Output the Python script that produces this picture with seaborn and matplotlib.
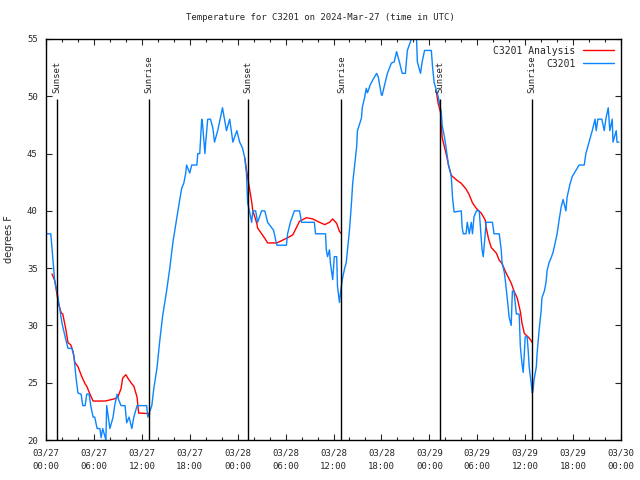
import numpy as np
import pandas as pd
import matplotlib
matplotlib.use("Agg")
import matplotlib.pyplot as plt
import matplotlib.dates as mdates
import seaborn as sns

# hours after 2024-03-27 00:00 UTC, temperatures in degrees F
obs_hours = [0.1, 0.6, 0.9, 1.1, 1.4, 1.75, 2.0, 2.4, 2.75, 3.25, 3.5, 3.75, 4.0, 4.4, 4.6, 4.9, 5.1, 5.4,
             5.6, 5.9, 6.1, 6.4, 6.75, 6.9, 7.1, 7.5, 7.6, 8.0, 8.4, 8.6, 8.9, 9.1, 9.4, 9.9, 10.1, 10.4,
             10.75, 11.0, 11.4, 12.6, 12.75, 13.0, 13.25, 13.5, 13.9, 14.25, 14.6, 15.1, 15.5, 15.9, 16.4,
             16.75, 17.0, 17.25, 17.5, 17.6, 18.0, 18.25, 18.9, 19.0, 19.25, 19.5, 19.6, 19.9, 20.0, 20.25,
             20.6, 20.9, 21.1, 21.5, 22.1, 22.6, 23.0, 23.4, 23.9, 24.25, 24.6, 24.9, 25.1, 25.25, 25.5,
             25.75, 25.9, 26.25, 26.5, 27.0, 27.4, 27.75, 28.5, 28.9, 30.1, 30.25, 30.6, 31.1, 31.75, 32.0,
             33.6, 33.75, 35.0, 35.1, 35.25, 35.5, 35.6, 35.9, 36.1, 36.4, 36.5, 36.75, 36.9, 37.1, 37.4,
             37.6, 37.75, 38.0, 38.25, 38.4, 38.9, 39.0, 39.5, 39.6, 39.9, 40.1, 40.25, 40.6, 40.9, 41.4,
             41.6, 42.0, 42.1, 42.4, 42.75, 43.25, 43.6, 43.9, 44.25, 44.6, 45.0, 45.25, 45.75, 46.4, 46.5,
             46.9, 47.1, 47.4, 48.25, 48.4, 48.6, 48.9, 49.1, 49.5, 49.6, 49.9, 50.1, 50.4, 50.75, 50.9,
             51.1, 52.0, 52.1, 52.25, 52.6, 52.75, 53.0, 53.25, 53.4, 53.6, 53.9, 54.25, 54.6, 54.75, 55.0,
             55.1, 55.9, 56.1, 56.75, 57.0, 57.1, 57.4, 57.6, 57.75, 58.0, 58.25, 58.4, 58.6, 58.9, 59.25,
             59.4, 59.6, 59.75, 59.9, 60.0, 60.25, 60.4, 60.5, 60.75, 60.9, 61.0, 61.1, 61.4, 61.5, 61.75,
             62.0, 62.1, 62.4, 62.6, 62.75, 63.0, 63.25, 63.5, 63.75, 64.0, 64.25, 64.5, 64.75, 65.1, 65.25,
             65.6, 65.9, 66.75, 67.4, 67.6, 68.0, 68.4, 68.75, 68.9, 69.1, 69.6, 69.9, 70.1, 70.4, 70.6,
             70.9, 71.0, 71.4, 71.5, 71.75]
obs_temps = [38, 38, 35.5, 33.8, 32.9, 31.3, 30.2, 29, 28, 28, 27.3, 25.5, 24.1, 24, 23, 23, 24, 24,
             23, 22, 22, 21, 21, 20.2, 21, 20, 23, 21, 22, 23, 24, 23.5, 23, 23, 21.5, 22,
             21, 22, 23, 23, 22, 22.5, 23, 24.5, 26.3, 28.7, 30.8, 33, 35, 37.3, 39.5,
             41, 42, 42.4, 43.3, 44, 43.3, 44, 44, 45, 45, 48, 47.6, 45, 46, 48,
             48, 47.2, 46, 47, 49, 47, 48, 46, 47, 46, 45.5, 44.6, 43.3, 40.7, 39.9,
             39, 40, 40, 39, 40, 40, 39, 38.3, 37, 37, 38, 39, 40, 40, 39,
             39, 38, 38, 36.6, 36, 36.6, 35.5, 34, 36, 36, 33.4, 32, 33, 34, 35,
             35.5, 36.6, 38.3, 40.7, 42.4, 45.6, 47, 48.1, 49, 49.9, 50.7, 50.3, 51, 51.4, 52,
             51.7, 50.1, 50.1, 51, 52, 52.9, 53, 53.9, 53, 52, 52, 54, 55, 55, 53,
             52, 53, 54, 54, 52.6, 51.2, 50.5, 50, 48.6, 47.5, 46.4, 45.5, 44, 43, 41.2,
             39.9, 40, 38.6, 38, 38, 39, 38, 39, 38, 39.5, 40, 40, 36.6, 36, 38,
             39, 39, 38, 38, 36.6, 35.5, 34.6, 33.4, 32.4, 30.7, 30, 33, 33, 31, 31,
             28.1, 26.7, 25.9, 27.6, 29, 29, 27.6, 26.4, 25, 24.1, 24.4, 25.2, 26.4, 27.6, 29.6,
             31.3, 32.4, 33, 33.7, 34.8, 35.5, 35.9, 36.4, 37.2, 38, 39.2, 40.3, 41, 40, 41.2,
             42.3, 43, 44, 44, 45, 46, 47, 48, 47, 48, 48, 47, 48, 49, 47,
             48, 46, 47, 46, 46]

# analysis is only available in three night-time stretches
ana1_hours = [0.75, 1.1, 1.4, 1.6, 1.9, 2.1, 2.5, 2.75, 3.1, 3.4, 3.6, 4.0, 4.5, 4.9, 5.1, 5.5, 5.9,
              7.4, 8.6, 9.0, 9.4, 9.6, 10.0, 10.25, 10.75, 11.0, 11.4, 11.6, 13.0]
ana1_temps = [34.5, 33.9, 32.6, 31.8, 31.1, 31, 29.6, 28.5, 28.3, 27.7, 26.8, 26.4, 25.5, 24.9, 24.7, 24,
              23.4, 23.4, 23.6, 23.75, 24.5, 25.4, 25.7, 25.4, 24.9, 24.7, 23.75, 22.35, 22.3]
ana2_hours = [24.9, 25.1, 25.4, 25.75, 25.9, 26.4, 26.5, 26.9, 27.4, 27.75, 28.9, 30.1, 30.9, 31.4,
              31.75, 32.6, 33.4, 34.25, 34.9, 35.5, 35.9, 36.4, 36.75, 37.0]
ana2_temps = [44.6, 43.6, 42.3, 40.8, 40, 38.9, 38.5, 38.1, 37.6, 37.2, 37.2, 37.6, 37.9, 38.6,
              39.1, 39.4, 39.3, 39, 38.8, 39, 39.3, 38.9, 38.2, 38.0]
ana3_hours = [48.9, 49.1, 49.4, 49.5, 49.6, 50.1, 50.4, 50.75, 51.4, 52.0, 52.6, 53.0, 53.4, 53.9,
              54.5, 55.0, 55.1, 55.4, 55.75, 56.4, 56.75, 57.1, 57.6, 58.25, 58.6, 59.0, 59.4, 59.6,
              59.9, 60.5, 60.9]
ana3_temps = [50.3, 49.4, 48.6, 47.5, 46.4, 45, 44, 43.1, 42.7, 42.4, 41.9, 41.4, 40.7, 40.2,
              39.8, 39.2, 38.6, 37.6, 36.8, 36.3, 35.7, 35.4, 34.6, 33.7, 33, 32.4, 31.2, 30.2,
              29.3, 28.9, 28.5]

event_names = ["Sunset", "Sunrise", "Sunset", "Sunrise", "Sunset", "Sunrise"]
event_hours = [1.34, 12.93, 25.3, 37.0, 49.35, 60.86]

start = pd.Timestamp("2024-03-27 00:00")


def to_time(hours):
    return start + pd.to_timedelta(np.array(hours), unit="h")


def main():
    frames = []
    for seg, (h, t) in enumerate([(ana1_hours, ana1_temps), (ana2_hours, ana2_temps),
                                  (ana3_hours, ana3_temps)]):
        frames.append(pd.DataFrame({"time": to_time(h), "temp": t,
                                    "series": "C3201 Analysis", "seg": seg}))
    frames.append(pd.DataFrame({"time": to_time(obs_hours), "temp": obs_temps,
                                "series": "C3201", "seg": 10}))
    df = pd.concat(frames, ignore_index=True)

    sns.set_theme(style="ticks")
    plt.rcParams["font.family"] = ["DejaVu Sans Mono", "DejaVu Sans"]
    plt.rcParams["font.size"] = 6.5

    fig = plt.figure(figsize=(6.4, 4.8), dpi=100)
    ax = fig.add_axes([46 / 640, 40 / 480, 575 / 640, 401 / 480])

    sns.lineplot(data=df, x="time", y="temp", hue="series", units="seg", estimator=None,
                 hue_order=["C3201 Analysis", "C3201"],
                 palette={"C3201 Analysis": "#ff0000", "C3201": "#0a84ff"},
                 linewidth=1, ax=ax, sort=False)

    ev_times = to_time(event_hours)
    ax.vlines(ev_times, 20, 49.8, color="black", linewidth=1)
    for name, t in zip(event_names, ev_times):
        ax.text(t, 50.25, name, rotation=90, ha="center", va="bottom", fontsize=6.5)

    ax.set_xlim(start, start + pd.Timedelta(hours=72))
    ax.set_ylim(20, 55)
    ax.set_yticks(range(20, 56, 5))
    ax.xaxis.set_major_locator(mdates.HourLocator(byhour=[0, 6, 12, 18]))
    ax.xaxis.set_minor_locator(mdates.HourLocator(byhour=range(0, 24, 2)))
    ax.xaxis.set_major_formatter(mdates.DateFormatter("%m/%d\n%H:%M"))
    ax.tick_params(which="major", direction="in", length=4, width=0.8, top=True, right=True,
                   labelsize=6.5, pad=6)
    ax.tick_params(which="minor", direction="in", length=2, width=0.8, top=True)
    for s in ax.spines.values():
        s.set_color("black")
        s.set_linewidth(1)

    ax.set_xlabel("")
    ax.set_ylabel("degrees F", family="DejaVu Sans", fontsize=7, labelpad=9)

    ax.legend(loc="upper right", frameon=False, markerfirst=False, fontsize=7,
              handlelength=3.2, borderaxespad=0.3, labelspacing=0.3)

    fig.text(0.5, 1 - 18 / 480, "Temperature for C3201 on 2024-Mar-27 (time in UTC)",
             ha="center", va="center", fontsize=6.5)

    fig.canvas.draw()
    for lbl in ax.get_xticklabels():
        lbl.set_linespacing(1.7)

    fig.savefig("out.png", dpi=100)


if __name__ == "__main__":
    main()
